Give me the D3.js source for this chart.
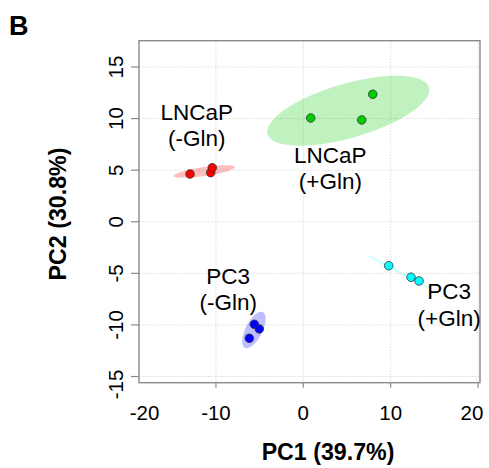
<!DOCTYPE html>
<html>
<head>
<meta charset="utf-8">
<script src="https://cdn.jsdelivr.net/npm/d3@7"></script>
<style>
  html, body { margin: 0; padding: 0; background: #fff; }
  svg { display: block; font-family: "Liberation Sans", Arial, sans-serif; }
</style>
</head>
<body>
<svg id="chart" width="489" height="468"></svg>
<script>
// ---------- data ----------
const groups = ["LNCaP (-Gln)", "LNCaP (+Gln)", "PC3 (-Gln)", "PC3 (+Gln)"];
const groupColors = ["#ff0000", "#00cd00", "#0000ff", "#00ffff"];

// PCA scores (PC1, PC2) per sample
const pc1 = [-12.97, -10.60, -10.42,   0.85, 6.69, 7.95,   -5.61, -5.04, -6.18,   9.78, 12.33, 13.25];
const pc2 = [  4.63,   4.76,   5.24,  10.06, 9.87, 12.36,  -9.94, -10.39, -11.29, -4.26, -5.38, -5.74];
const sampleGroup = [0,0,0, 1,1,1, 2,2,2, 3,3,3];

// confidence ellipses, data units: centre, semi-major vector, semi-minor vector
const ellCx = [-11.33, 5.15, -5.65, 10.96];
const ellCy = [  4.87, 10.76, -10.49, -4.87];
const ellAx = [ 3.513, 9.24, 1.025, 3.640];
const ellAy = [ 0.433, 2.26, 1.733, -1.638];
const ellBx = [ 0.074, 0.861, 0.860, -0.064];
const ellBy = [-0.431, -2.524, -0.364, -0.103];

// group label lines and anchor (data units)
const labelLine1 = ["LNCaP", "LNCaP", "PC3", "PC3"];
const labelLine2 = ["(-Gln)", "(+Gln)", "(-Gln)", "(+Gln)"];
const labelX = [-12.2, 3.1, -8.6, 16.7];
const labelY = [ 9.9,  5.7, -6.0, -7.5];

const xTicks = [-20, -10, 0, 10, 20];
const yTicks = [-15, -10, -5, 0, 5, 10, 15];
const xTitle = "PC1 (39.7%)";
const yTitle = "PC2 (30.8%)";
const panelLetter = "B";

// ---------- layout ----------
const svg = d3.select("#chart");
const L = 139, R = 480, T = 40.7, B = 382.7;
const x = d3.scaleLinear().domain([-18.81, 20.23]).range([L, R]);
const y = d3.scaleLinear().domain([-15.6, 17.55]).range([B, T]);

// grid
const grid = svg.append("g");
grid.selectAll("line.gx").data(xTicks.filter(v => x(v) >= L && x(v) <= R)).join("line")
  .attr("x1", d => x(d)).attr("x2", d => x(d)).attr("y1", T).attr("y2", B)
  .attr("stroke", "#dcdcdc").attr("stroke-width", 1).attr("stroke-dasharray", "1.5,1.5");
grid.selectAll("line.gy").data(yTicks).join("line")
  .attr("y1", d => y(d)).attr("y2", d => y(d)).attr("x1", L).attr("x2", R)
  .attr("stroke", "#dcdcdc").attr("stroke-width", 1).attr("stroke-dasharray", "1.5,1.5");

// ellipses
const ellPath = i => {
  const pts = d3.range(0, 73).map(k => {
    const t = k / 72 * 2 * Math.PI;
    return [x(ellCx[i] + ellAx[i] * Math.cos(t) + ellBx[i] * Math.sin(t)),
            y(ellCy[i] + ellAy[i] * Math.cos(t) + ellBy[i] * Math.sin(t))];
  });
  return d3.line().curve(d3.curveLinearClosed)(pts);
};
svg.append("g").selectAll("path").data(d3.range(groups.length)).join("path")
  .attr("d", ellPath)
  .attr("fill", i => groupColors[i])
  .attr("fill-opacity", i => i === 3 ? 0.15 : 0.25)
  .attr("stroke", i => i === 3 ? groupColors[i] : "none")
  .attr("stroke-width", 0.8)
  .attr("stroke-opacity", 0.12);

// points
svg.append("g").selectAll("circle").data(d3.range(pc1.length)).join("circle")
  .attr("cx", i => x(pc1[i])).attr("cy", i => y(pc2[i])).attr("r", 4.3)
  .attr("fill", i => groupColors[sampleGroup[i]])
  .attr("stroke", "#333").attr("stroke-width", 0.8);

// box
svg.append("rect").attr("x", L).attr("y", T).attr("width", R - L).attr("height", B - T)
  .attr("fill", "none").attr("stroke", "#8a8a8a").attr("stroke-width", 1.4);

// x axis
const xa = svg.append("g").attr("transform", `translate(0,${B})`);
xa.selectAll("line").data(xTicks.filter(v => x(v) >= L)).join("line")
  .attr("x1", d => x(d)).attr("x2", d => x(d)).attr("y1", 0).attr("y2", 5)
  .attr("stroke", "#8a8a8a").attr("stroke-width", 1.2);
xa.selectAll("text").data(xTicks).join("text")
  .attr("x", d => Math.min(Math.max(x(d), L + 5.5), R - 8))
  .attr("y", 37.5).attr("text-anchor", "middle")
  .attr("font-size", 20.5).attr("fill", "#000").text(d => d);

// y axis
const yMin = d3.min(yTicks);
const ya = svg.append("g").attr("transform", `translate(${L},0)`);
ya.selectAll("line").data(yTicks).join("line")
  .attr("y1", d => y(d)).attr("y2", d => y(d)).attr("x1", 0).attr("x2", -8)
  .attr("stroke", "#8a8a8a").attr("stroke-width", 1.2);
ya.selectAll("text").data(yTicks).join("text")
  .attr("transform", d => `translate(-16,${d === yMin ? y(d) + 8 : y(d)}) rotate(-90)`)
  .attr("text-anchor", "middle")
  .attr("font-size", 20.5).attr("fill", "#000").text(d => d);

// titles
svg.append("text").attr("x", 328).attr("y", 460).attr("text-anchor", "middle")
  .attr("font-weight", "bold").attr("font-size", 23.2).text(xTitle);
svg.append("text").attr("transform", "translate(66,214) rotate(-90)").attr("text-anchor", "middle")
  .attr("font-weight", "bold").attr("font-size", 23.2).text(yTitle);
svg.append("text").attr("x", 9).attr("y", 35).attr("font-weight", "bold")
  .attr("font-size", 27).text(panelLetter);

// group labels
const lab = svg.append("g").selectAll("text").data(d3.range(groups.length)).join("text")
  .attr("x", i => x(labelX[i])).attr("y", i => y(labelY[i]))
  .attr("text-anchor", "middle").attr("font-size", 22.5).attr("fill", "#000");
lab.append("tspan").attr("x", i => x(labelX[i])).attr("dy", 0).text(i => labelLine1[i]);
lab.append("tspan").attr("x", i => x(labelX[i])).attr("dy", 26.5).text(i => labelLine2[i]);
</script>
</body>
</html>
